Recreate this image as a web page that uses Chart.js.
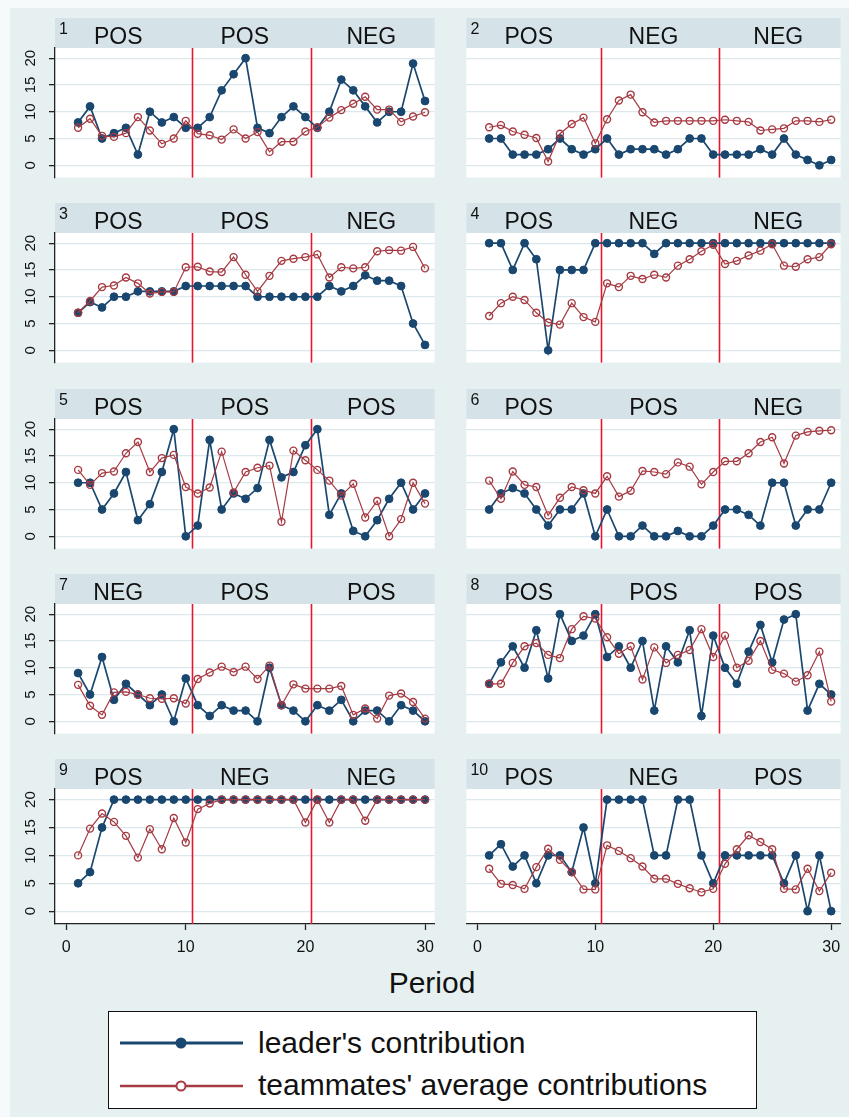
<!DOCTYPE html>
<html>
<head>
<meta charset="utf-8">
<script src="https://cdn.jsdelivr.net/npm/chart.js@4.4.1/dist/chart.umd.min.js"></script>
<style>
  html, body { margin: 0; padding: 0; background: #f6fafa; }
  body { position: relative; width: 849px; height: 1117px; overflow: hidden; font-family: "Liberation Sans", Arial, sans-serif; color: #111; }
  #graph { position: absolute; left: 10px; top: 8px; width: 839px; height: 1109px; background: #e7f0f1; }
  canvas.panel { position: absolute; }
  #xtitle { position: absolute; left: 332px; width: 200px; top: 968px; text-align: center; font-size: 30px; line-height: 30px; }
  #legend { position: absolute; left: 108px; top: 1011px; width: 649px; height: 98px; box-sizing: border-box; border: 1px solid #111; background: #fff; }
  #legend svg { position: absolute; left: 10px; }
  #legend span { position: absolute; left: 149px; font-size: 30px; line-height: 30px; white-space: nowrap; }
</style>
</head>
<body>
<div id="graph"></div>
<div id="xtitle">Period</div>
<div id="legend">
  <svg style="top:20px" width="126" height="22">
    <line x1="1" y1="11" x2="124" y2="11" stroke="#1a476f" stroke-width="3"/>
    <circle cx="62" cy="11" r="5.5" fill="#1a476f"/>
  </svg>
  <span style="top:16px">leader's contribution</span>
  <svg style="top:63px" width="126" height="22">
    <line x1="1" y1="11" x2="124" y2="11" stroke="#a63a42" stroke-width="2.5"/>
    <circle cx="62" cy="11" r="4.5" fill="#fff" stroke="#a63a42" stroke-width="2"/>
  </svg>
  <span style="top:58px">teammates' average contributions</span>
</div>

<script>
// Periods of the experiment
const periods = [1,2,3,4,5,6,7,8,9,10,11,12,13,14,15,16,17,18,19,20,21,22,23,24,25,26,27,28,29,30];
const yTicks = [0, 5, 10, 15, 20];
const xTicks = [0, 10, 20, 30];
const phaseBreaks = [10.5, 20.5];

// Treatment of each ten-period block, per group
const phases = [
  ['POS','POS','NEG'], ['POS','NEG','NEG'],
  ['POS','POS','NEG'], ['POS','NEG','NEG'],
  ['POS','POS','POS'], ['POS','POS','NEG'],
  ['NEG','POS','POS'], ['POS','POS','POS'],
  ['POS','NEG','NEG'], ['POS','NEG','POS']
];

// Leader's contribution per period
const leader1  = [8,11,5,6,7,2,10,8,9,7,7,9,14,17,20,7,6,9,11,9,7,10,16,14,11,8,10,10,19,12];
const leader2  = [5,5,2,2,2,3,5,3,2,3,5,2,3,3,3,2,3,5,5,2,2,2,2,3,2,5,2,1,0,1];
const leader3  = [7,9,8,10,10,11,11,11,11,12,12,12,12,12,12,10,10,10,10,10,10,12,11,12,14,13,13,12,5,1];
const leader4  = [20,20,15,20,17,0,15,15,15,20,20,20,20,20,18,20,20,20,20,20,20,20,20,20,20,20,20,20,20,20];
const leader5  = [10,10,5,8,12,3,6,12,20,0,2,18,5,8,7,9,18,11,12,17,20,4,8,1,0,3,7,10,5,8];
const leader6  = [5,8,9,8,5,2,5,5,8,0,5,0,0,2,0,0,1,0,0,2,5,5,4,2,10,10,2,5,5,10];
const leader7  = [9,5,12,4,7,5,3,5,0,8,3,1,3,2,2,0,10,3,2,0,3,2,4,0,2,2,0,3,2,0];
const leader8  = [7,11,14,10,17,8,20,15,16,20,12,14,10,15,2,14,11,17,1,16,10,7,13,18,11,19,20,2,7,5];
const leader9  = [5,7,15,20,20,20,20,20,20,20,20,20,20,20,20,20,20,20,20,20,20,20,20,20,20,20,20,20,20,20];
const leader10 = [10,12,8,10,5,10,10,7,15,5,20,20,20,20,10,10,20,20,10,5,10,10,10,10,10,5,10,0,10,0];

// Teammates' average contribution per period
const mates1  = [7,8.7,5.5,5.3,6,9,6.5,4,5,8.3,5.9,5.6,4.8,6.7,5,6.2,2.5,4.4,4.4,6.3,7.1,8.9,10.3,11.5,12.8,10.4,10.4,8.1,9.1,9.9];
const mates2  = [7.1,7.5,6.3,5.7,5.1,0.7,5.9,7.7,8.9,4.1,8.6,12.1,13.2,9.9,8,8.3,8.3,8.3,8.3,8.3,8.5,8.3,8.1,6.5,6.7,6.9,8.3,8.3,8.1,8.5];
const mates3  = [7,9.2,11.8,12.1,13.6,12.5,10.6,10.9,10.9,15.5,15.6,14.7,14.6,17.4,14.1,11,13.9,16.7,17.1,17.4,17.9,13.6,15.5,15.3,15.5,18.5,18.7,18.6,19.3,15.3];
const mates4  = [6.4,8.8,10,9.4,7,5.2,4.8,8.8,6.2,5.3,12.5,11.8,13.9,13.3,14.1,13.6,15.8,17,18.5,19.7,16.1,16.7,17.7,18.6,19.8,15.8,15.6,17,17.4,19.8];
const mates5  = [12.4,9.6,11.8,12.1,15.5,17.6,12,14.6,15.2,9.2,8,9.1,15.8,8.2,12,12.8,13.2,2.7,16,14.2,12.4,10.4,7.6,9.8,3.5,6.6,0,3.2,10,6.1];
const mates6  = [10.4,7,12.1,9.6,9.2,3.9,7.2,9.2,8.6,8,11.2,7.4,8.5,12.2,12,11.6,13.8,13,9.7,12,14,14,15.5,17.6,18.5,13.6,18.8,19.5,19.7,19.8];
const mates7  = [6.8,2.9,1.2,5.4,5.5,5,4.3,4.2,4.3,3.3,7.9,9.1,10.2,9.2,10.2,7.9,10.4,3,6.9,6.1,6.1,6.1,6.6,1.2,2.4,0.5,4.8,5.2,3.6,0.5];
const mates8  = [7,7,10.9,14,14.6,12.4,11.8,17.2,19.6,19.2,15.7,12.6,14,7.8,13.8,10.9,12.4,13.3,17.2,12,16,10,11.3,15,9.6,8.9,7.4,8.6,13,3.7];
const mates9  = [10,14.8,17.5,16,13.5,9.6,14.7,11.1,16.7,12.3,18.3,19.3,20,20,20,20,20,20,20,15.9,20,15.9,20,20,16.2,20,20,20,20,20];
const mates10 = [7.6,4.9,4.7,4,7.9,11.2,9.2,7,3.9,3.9,11.8,10.8,9.5,8,5.8,5.8,4.9,4.1,3.4,4,8.5,11.1,13.6,12.4,11.1,4,3.9,7.6,3.6,6.9];

const leaders = [leader1, leader2, leader3, leader4, leader5, leader6, leader7, leader8, leader9, leader10];
const mates = [mates1, mates2, mates3, mates4, mates5, mates6, mates7, mates8, mates9, mates10];

const BLUE = '#1a476f';
const RED = '#a63a42';
const BREAK_RED = '#e8172f';
const STRIP = '#d5e3e9';
const GRID = '#dce8eb';
const AXIS = '#222';
const FONT = '"Liberation Sans", Arial, sans-serif';
const STRIP_H = 30;

// Header strip, white plot region and treatment-change lines for each panel
const panelDecor = {
  id: 'panelDecor',
  beforeDraw(chart, args, opts) {
    const a = chart.chartArea, ctx = chart.ctx;
    ctx.save();
    ctx.fillStyle = '#fff';
    ctx.fillRect(a.left, a.top, a.right - a.left, a.bottom - a.top);
    ctx.fillStyle = STRIP;
    ctx.fillRect(a.left, a.top - STRIP_H, a.right - a.left, STRIP_H);
    ctx.restore();
  },
  beforeDatasetsDraw(chart) {
    const a = chart.chartArea, ctx = chart.ctx, xs = chart.scales.x;
    ctx.save();
    ctx.strokeStyle = BREAK_RED;
    ctx.lineWidth = 1.6;
    phaseBreaks.forEach(v => {
      const px = Math.round(xs.getPixelForValue(v)) + 0.5;
      ctx.beginPath();
      ctx.moveTo(px, a.top);
      ctx.lineTo(px, a.bottom);
      ctx.stroke();
    });
    ctx.restore();
  },
  afterDraw(chart, args, opts) {
    const a = chart.chartArea, ctx = chart.ctx;
    const top = a.top - STRIP_H;
    const w = a.right - a.left;
    ctx.save();
    ctx.fillStyle = '#111';
    ctx.textBaseline = 'alphabetic';
    ctx.textAlign = 'left';
    ctx.font = '16px ' + FONT;
    ctx.fillText(String(opts.num), a.left + 4, top + 15.5);
    ctx.textAlign = 'center';
    ctx.font = '23px ' + FONT;
    opts.labels.forEach((t, i) => {
      ctx.fillText(t, a.left + w * (i + 0.5) / 3, top + 25.5);
    });
    ctx.restore();
  }
};

const rowTops = [18, 203.3, 388.6, 573.9, 759.2];

function makePanel(i) {
  const col = i % 2, row = Math.floor(i / 2);
  const isBottom = row === 4;
  const isLeft = col === 0;
  const left = isLeft ? 10 : 461;
  const width = isLeft ? 430 : 385;
  const height = 165 + (isBottom ? 42 : 0);
  const top = Math.round(rowTops[row]);

  const cv = document.createElement('canvas');
  cv.className = 'panel';
  cv.width = width;
  cv.height = height;
  cv.style.left = left + 'px';
  cv.style.top = top + 'px';
  document.body.appendChild(cv);

  new Chart(cv, {
    type: 'line',
    data: {
      labels: periods,
      datasets: [
        {
          label: "teammates' average contributions",
          data: mates[i].map((v, k) => ({ x: periods[k], y: v })),
          borderColor: RED,
          borderWidth: 1.2,
          pointRadius: 3.5,
          pointBorderWidth: 1.4,
          pointBorderColor: RED,
          pointBackgroundColor: 'rgba(255,255,255,0)',
          tension: 0,
          order: 0
        },
        {
          label: "leader's contribution",
          data: leaders[i].map((v, k) => ({ x: periods[k], y: v })),
          borderColor: BLUE,
          borderWidth: 1.7,
          pointRadius: 3.9,
          pointBorderWidth: 1,
          pointBorderColor: BLUE,
          pointBackgroundColor: BLUE,
          tension: 0,
          order: 1
        }
      ]
    },
    options: {
      responsive: false,
      animation: false,
      events: [],
      layout: { padding: { top: STRIP_H, right: 2, left: 0, bottom: 0 } },
      plugins: {
        legend: { display: false },
        tooltip: { enabled: false },
        panelDecor: { num: i + 1, labels: phases[i] }
      },
      scales: {
        x: {
          type: 'linear',
          min: -0.93,
          max: 30.8,
          display: isBottom,
          afterBuildTicks: s => { s.ticks = xTicks.map(v => ({ value: v })); },
          afterFit: s => { s.height = isBottom ? 42 : 0; s.paddingLeft = 0; s.paddingRight = 0; },
          grid: { drawOnChartArea: false, drawTicks: true, tickLength: 6, tickColor: AXIS, tickWidth: 1.3 },
          border: { display: true, color: AXIS, width: 1.3 },
          ticks: { autoSkip: false, maxRotation: 0, font: { family: FONT, size: 16 }, color: '#111', padding: 8 }
        },
        y: {
          min: -2.3,
          max: 21.9,
          afterBuildTicks: s => { s.ticks = yTicks.map(v => ({ value: v })); },
          afterFit: s => { s.width = isLeft ? 45 : 0; s.paddingTop = 0; s.paddingBottom = 0; },
          grid: { color: GRID, lineWidth: 1.3, drawTicks: isLeft, tickLength: 6, tickColor: AXIS, tickWidth: 1.3 },
          border: { display: isLeft, color: AXIS, width: 1.3 },
          ticks: {
            display: isLeft,
            autoSkip: false,
            minRotation: 90,
            maxRotation: 90,
            crossAlign: 'center',
            padding: 10,
            font: { family: FONT, size: 15 },
            color: '#111'
          }
        }
      }
    },
    plugins: [panelDecor]
  });
}

for (let i = 0; i < 10; i++) makePanel(i);
</script>
</body>
</html>
